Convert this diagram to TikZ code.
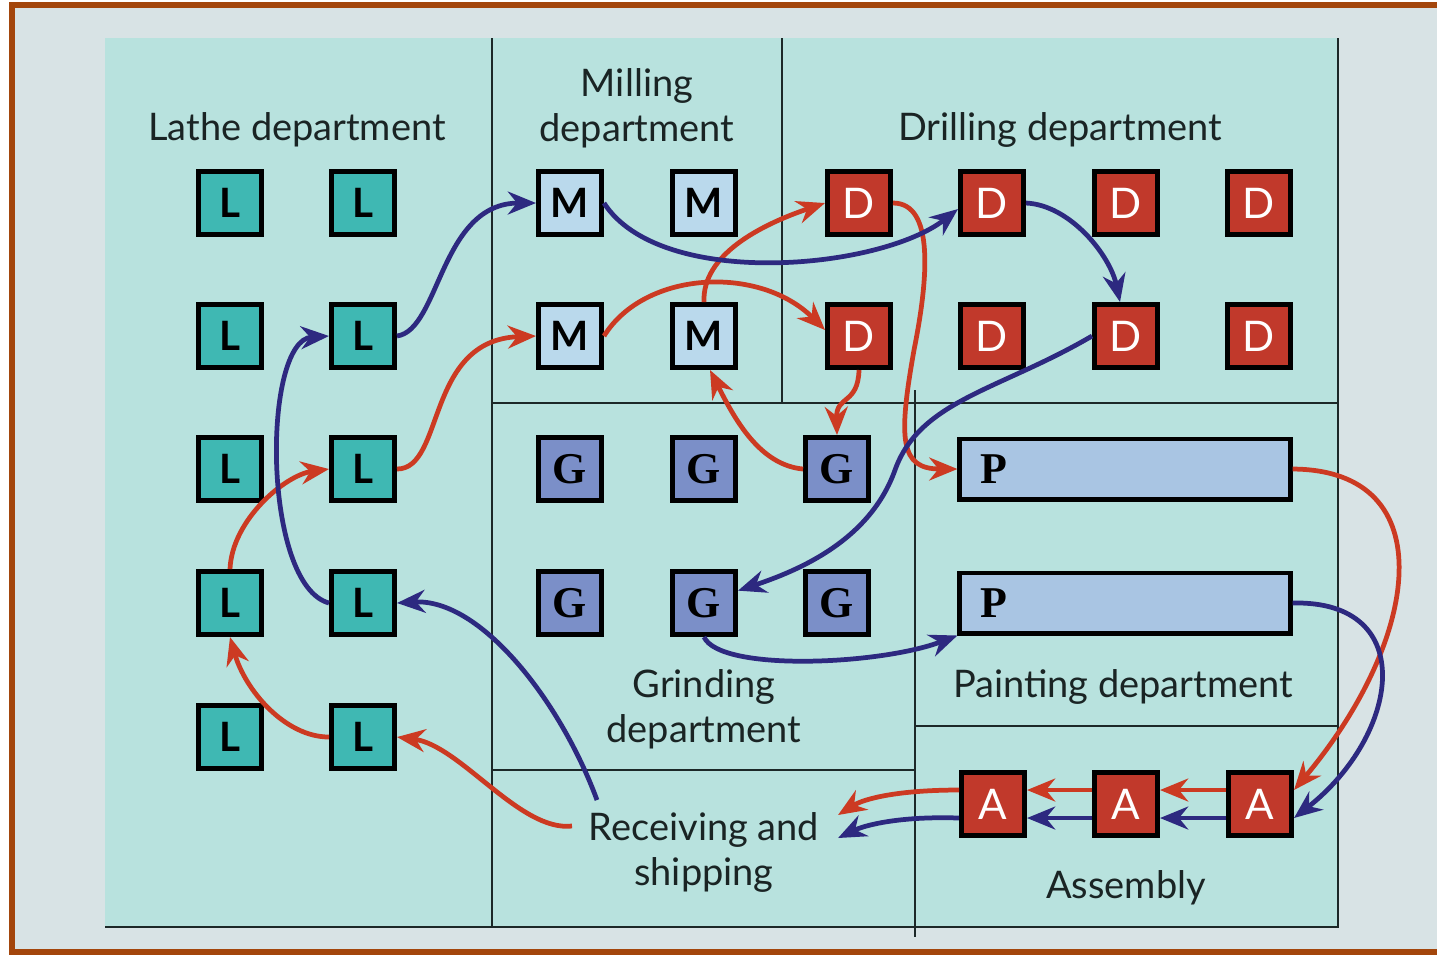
\documentclass[tikz,border=0pt]{standalone}
\usepackage{fontspec}
\setmainfont{Lato}
\newfontfamily\serifb{Liberation Serif}
\usetikzlibrary{arrows.meta,calc}
\definecolor{bgout}{HTML}{D8E3E5}
\definecolor{brn}{HTML}{A3460C}
\definecolor{panel}{HTML}{B8E2DE}
\definecolor{divc}{HTML}{1C2828}
\definecolor{lfill}{HTML}{3FB8B3}
\definecolor{mfill}{HTML}{BAD9EC}
\definecolor{dfill}{HTML}{C1392B}
\definecolor{gfill}{HTML}{7B8FC8}
\definecolor{pfill}{HTML}{A9C5E3}
\definecolor{redc}{HTML}{CC3A22}
\definecolor{bluec}{HTML}{2D2980}
\definecolor{txt}{HTML}{1A2424}
\begin{document}
\begin{tikzpicture}[x=0.01cm,y=-0.01cm,
  divl/.style={draw=divc,line width=0.8pt},
  box/.style={draw=black,line width=1.4pt,minimum size=0.63cm,inner sep=0pt,font=\fontsize{11.5}{13}\selectfont\bfseries},
  lbox/.style={box,fill=lfill,text=black},
  mbox/.style={box,fill=mfill,text=black},
  dbox/.style={box,fill=dfill,text=white,font=\fontsize{12}{13}\selectfont},
  gbox/.style={box,fill=gfill,text=black,font=\fontsize{12.5}{13}\selectfont\serifb\bfseries},
  pbox/.style={draw=black,line width=1.4pt,fill=pfill,minimum width=3.30cm,minimum height=0.60cm,inner sep=0pt},
  lab/.style={text=txt,font=\fontsize{10.8}{12.8}\selectfont,align=center},
  rarr/.style={draw=redc,line width=1.35pt,-{Stealth[length=8pt,width=6.5pt]}},
  barr/.style={draw=bluec,line width=1.35pt,-{Stealth[length=8pt,width=6.5pt]}}]
\useasboundingbox (0,0) rectangle (1437,956);
\fill[bgout] (12,5) rectangle (1437,952);
\draw[brn,line width=1.5pt] (1437,5) -- (12,5) -- (12,952) -- (1437,952);
\fill[panel] (105,38) rectangle (1338,928);
% dividers
\draw[divl] (105,927) -- (1338,927);
\draw[divl] (1338,38) -- (1338,928);
\draw[divl] (492,38) -- (492,928);
\draw[divl] (782,38) -- (782,403);
\draw[divl] (492,403) -- (1338,403);
\draw[divl] (915,390) -- (915,937);
\draw[divl] (492,770) -- (915,770);
\draw[divl] (915,726) -- (1338,726);
% labels
\node[lab] (tl) at (297,130) {Lathe department};
\node[lab] (tm) at (637,108) {Milling\\department};
\node[lab] (td) at (1060,130) {Drilling department};
\node[lab] (tg) at (704,709) {Grinding\\department};
\node[lab] (tp) at (1123,687) {Painting department};
\node[lab] (rs) at (704,852) {Receiving and\\shipping};
\node[lab] (ta) at (1126,888) {Assembly};
% lathe
\foreach \c/\x in {a/230,b/363}
  \foreach \r/\y in {1/203,2/336,3/469,4/603,5/737}
    \node[lbox] (L\c\r) at (\x,\y) {L};
% milling
\foreach \c/\x in {a/570,b/704}
  \foreach \r/\y in {1/203,2/336}
    \node[mbox] (M\c\r) at (\x,\y) {M};
% drilling
\foreach \c/\x in {a/859,b/992,c/1126,d/1259}
  \foreach \r/\y in {1/203,2/336}
    \node[dbox] (D\c\r) at (\x,\y) {D};
% grinding
\foreach \c/\x in {a/570,b/704,c/837}
  \foreach \r/\y in {1/469,2/603}
    \node[gbox] (G\c\r) at (\x,\y) {G};
% painting
\node[pbox,label={[anchor=center,xshift=0.36cm,font=\fontsize{12.5}{13}\selectfont\serifb\bfseries]west:P}] (P1) at (1125,469) {};
\node[pbox,label={[anchor=center,xshift=0.36cm,font=\fontsize{12.5}{13}\selectfont\serifb\bfseries]west:P}] (P2) at (1125,603) {};
% assembly
\node[dbox] (Aa) at (993,804) {A};
\node[dbox] (Ab) at (1126,804) {A};
\node[dbox] (Ac) at (1260,804) {A};
% free ends at receiving
\coordinate (rsR) at (572,826);
\coordinate (rsB) at (597,800);
\coordinate (rsRe) at (838,815);
\coordinate (rsBe) at (838,838);
% red chain
\draw[rarr] (rsR) .. controls (520,832) and (460,745) .. (Lb5.east);
\draw[rarr] (Lb5.west) .. controls (285,737) and (245,690) .. (La4.south);
\draw[rarr] (La4.north) .. controls (232,520) and (285,475) .. (Lb3.west);
\draw[rarr] (Lb3.east) .. controls (445,469) and (425,340) .. (Ma2.west);
\draw[rarr] (Ma2.east) .. controls (645,270) and (760,265) .. (Da2.170);
\draw[rarr] (Mb2.north) .. controls (702,255) and (760,225) .. (Da1.west);
\draw[rarr] (Da2.south) .. controls (858,405) and (836,395) .. (Gc1.north);
\draw[rarr] (Gc1.west) .. controls (760,465) and (735,420) .. (Mb2.280);
\draw[rarr] (Da1.east) .. controls (935,203) and (928,280) .. (914,350) .. controls (898,440) and (900,469) .. (P1.west);
\draw[rarr] (P1.east) .. controls (1445,470) and (1420,640) .. ($(Ac.east)+(0,-14)$);
\draw[rarr] ($(Ac.west)+(0,-14)$) -- ($(Ab.east)+(0,-14)$);
\draw[rarr] ($(Ab.west)+(0,-14)$) -- ($(Aa.east)+(0,-14)$);
\draw[rarr] ($(Aa.west)+(0,-14)$) .. controls (900,790) and (865,798) .. (rsRe);
% blue chain
\draw[barr] (rsB) .. controls (560,700) and (480,598) .. (Lb4.east);
\draw[barr] (Lb4.west) .. controls (262,585) and (262,340) .. (Lb2.west);
\draw[barr] (Lb2.east) .. controls (440,330) and (440,203) .. (Ma1.west);
\draw[barr] (Ma1.east) .. controls (660,290) and (880,270) .. (Db1.190);
\draw[barr] (Db1.east) .. controls (1070,205) and (1110,255) .. (Dc2.100);
\draw[barr] (Dc2.west) .. controls (1000,390) and (920,400) .. (895,470) .. controls (870,540) and (800,570) .. (Gb2.20);
\draw[barr] (Gb2.south) .. controls (720,672) and (880,665) .. (P2.south west);
\draw[barr] (P2.east) .. controls (1420,600) and (1400,735) .. ($(Ac.east)+(0,14)$);
\draw[barr] ($(Ac.west)+(0,14)$) -- ($(Ab.east)+(0,14)$);
\draw[barr] ($(Ab.west)+(0,14)$) -- ($(Aa.east)+(0,14)$);
\draw[barr] ($(Aa.west)+(0,14)$) .. controls (900,816) and (865,825) .. (rsBe);
\end{tikzpicture}
\end{document}
